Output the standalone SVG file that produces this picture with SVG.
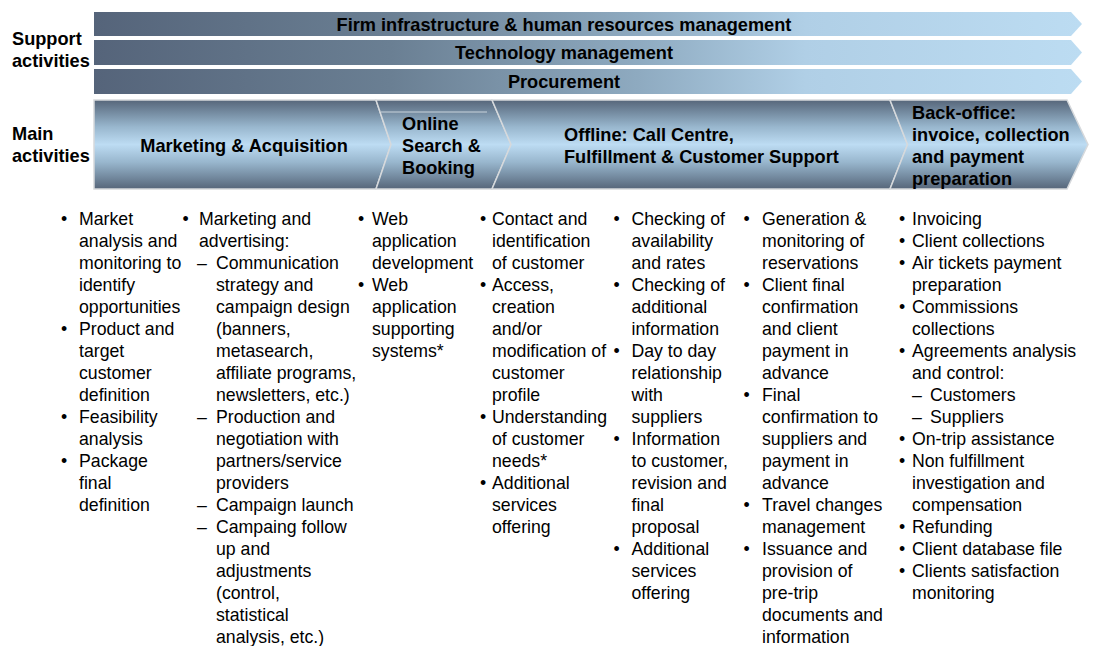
<svg xmlns="http://www.w3.org/2000/svg" width="1093" height="646" viewBox="0 0 1093 646">
<defs>
<linearGradient id="barGrad" gradientUnits="userSpaceOnUse" x1="94" y1="0" x2="1082" y2="0">
<stop offset="0" stop-color="#55647a"/>
<stop offset="0.3" stop-color="#6a7f93"/>
<stop offset="0.55" stop-color="#8eaac0"/>
<stop offset="0.72" stop-color="#b0cfe6"/>
<stop offset="1" stop-color="#bcdcf2"/>
</linearGradient>
<linearGradient id="chevGrad" gradientUnits="userSpaceOnUse" x1="0" y1="100" x2="0" y2="189">
<stop offset="0" stop-color="#56667a"/>
<stop offset="0.3" stop-color="#98b6cd"/>
<stop offset="0.5" stop-color="#bddcf3"/>
<stop offset="0.7" stop-color="#98b6cd"/>
<stop offset="1" stop-color="#56667a"/>
</linearGradient>
<style>
.bar{fill:url(#barGrad);}
.chev{fill:url(#chevGrad);stroke:#d6d9dc;stroke-width:1.5;}
.h{font-family:"Liberation Sans",Arial,sans-serif;font-weight:bold;font-size:18.2px;fill:#000;}
.b{font-family:"Liberation Sans",Arial,sans-serif;font-size:17.7px;fill:#000;}
.c{text-anchor:middle;}
</style>
</defs>
<rect width="1093" height="646" fill="#fff"/>

<g id="side-labels">
<text class="h" x="12" y="45">Support</text>
<text class="h" x="12" y="67">activities</text>
<text class="h" x="12" y="140">Main</text>
<text class="h" x="12" y="162">activities</text>
</g>

<g id="bar-firm">
<polygon class="bar" points="94,12 1071,12 1082,24 1071,36 94,36"/>
<text class="h c" x="564" y="31">Firm infrastructure &amp; human resources management</text>
</g>
<g id="bar-tech">
<polygon class="bar" points="94,40 1071,40 1082,52.5 1071,65 94,65"/>
<text class="h c" x="564" y="59">Technology management</text>
</g>
<g id="bar-proc">
<polygon class="bar" points="94,69 1071,69 1082,81.5 1071,94 94,94"/>
<text class="h c" x="564" y="88">Procurement</text>
</g>

<g id="chev-marketing">
<polygon class="chev" points="94,100 376,100 391,144.5 376,189 94,189"/>
<text class="h c" x="244" y="152">Marketing &amp; Acquisition</text>
</g>
<g id="chev-online">
<polygon class="chev" points="376,100 492,100 511,144.5 492,189 376,189 391,144.5"/>
<line x1="381" y1="112" x2="487" y2="112" stroke="#c9d3dc" stroke-width="1"/>
<text class="h" x="402" y="130">Online</text>
<text class="h" x="402" y="152">Search &amp;</text>
<text class="h" x="402" y="174">Booking</text>
</g>
<g id="chev-offline">
<polygon class="chev" points="492,100 890,100 907.5,144.5 890,189 492,189 511,144.5"/>
<text class="h" x="564" y="141">Offline: Call Centre,</text>
<text class="h" x="564" y="163">Fulfillment &amp; Customer Support</text>
</g>
<g id="chev-backoffice">
<polygon class="chev" points="890,100 1067,100 1088,144.5 1067,189 890,189 907.5,144.5"/>
<text class="h" x="912" y="119">Back-office:</text>
<text class="h" x="912" y="141">invoice, collection</text>
<text class="h" x="912" y="163">and payment</text>
<text class="h" x="912" y="185">preparation</text>
</g>

<g id="connectors"/>

<g id="col-1">
<text class="b c" x="64"><tspan y="225">•</tspan><tspan x="64" y="335">•</tspan><tspan x="64" y="423">•</tspan><tspan x="64" y="467">•</tspan></text>
<text class="b" x="79" y="225"><tspan x="79" y="225">Market</tspan><tspan x="79" y="247">analysis and</tspan><tspan x="79" y="269">monitoring to</tspan><tspan x="79" y="291">identify</tspan><tspan x="79" y="313">opportunities</tspan><tspan x="79" y="335">Product and</tspan><tspan x="79" y="357">target</tspan><tspan x="79" y="379">customer</tspan><tspan x="79" y="401">definition</tspan><tspan x="79" y="423">Feasibility</tspan><tspan x="79" y="445">analysis</tspan><tspan x="79" y="467">Package</tspan><tspan x="79" y="489">final</tspan><tspan x="79" y="511">definition</tspan></text>
</g>

<g id="col-2">
<text class="b c" x="185.7" y="225">•</text>
<text class="b"><tspan x="197" y="269">–</tspan><tspan x="197" y="423">–</tspan><tspan x="197" y="511">–</tspan><tspan x="197" y="533">–</tspan></text>
<text class="b"><tspan x="199" y="225">Marketing and</tspan><tspan x="199" y="247">advertising:</tspan><tspan x="216" y="269">Communication</tspan><tspan x="216" y="291">strategy and</tspan><tspan x="216" y="313">campaign design</tspan><tspan x="216" y="335">(banners,</tspan><tspan x="216" y="357">metasearch,</tspan><tspan x="216" y="379">affiliate programs,</tspan><tspan x="216" y="401">newsletters, etc.)</tspan><tspan x="216" y="423">Production and</tspan><tspan x="216" y="445">negotiation with</tspan><tspan x="216" y="467">partners/service</tspan><tspan x="216" y="489">providers</tspan><tspan x="216" y="511">Campaign launch</tspan><tspan x="216" y="533">Campaing follow</tspan><tspan x="216" y="555">up and</tspan><tspan x="216" y="577">adjustments</tspan><tspan x="216" y="599">(control,</tspan><tspan x="216" y="621">statistical</tspan><tspan x="216" y="643">analysis, etc.)</tspan></text>
</g>

<g id="col-3">
<text class="b c"><tspan x="361" y="225">•</tspan><tspan x="361" y="291">•</tspan></text>
<text class="b"><tspan x="372" y="225">Web</tspan><tspan x="372" y="247">application</tspan><tspan x="372" y="269">development</tspan><tspan x="372" y="291">Web</tspan><tspan x="372" y="313">application</tspan><tspan x="372" y="335">supporting</tspan><tspan x="372" y="357">systems*</tspan></text>
</g>

<g id="col-4">
<text class="b c"><tspan x="483" y="225">•</tspan><tspan x="483" y="291">•</tspan><tspan x="483" y="423">•</tspan><tspan x="483" y="489">•</tspan></text>
<text class="b"><tspan x="492" y="225">Contact and</tspan><tspan x="492" y="247">identification</tspan><tspan x="492" y="269">of customer</tspan><tspan x="492" y="291">Access,</tspan><tspan x="492" y="313">creation</tspan><tspan x="492" y="335">and/or</tspan><tspan x="492" y="357">modification of</tspan><tspan x="492" y="379">customer</tspan><tspan x="492" y="401">profile</tspan><tspan x="492" y="423">Understanding</tspan><tspan x="492" y="445">of customer</tspan><tspan x="492" y="467">needs*</tspan><tspan x="492" y="489">Additional</tspan><tspan x="492" y="511">services</tspan><tspan x="492" y="533">offering</tspan></text>
</g>

<g id="col-5">
<text class="b c"><tspan x="616.7" y="225">•</tspan><tspan x="616.7" y="291">•</tspan><tspan x="616.7" y="357">•</tspan><tspan x="616.7" y="445">•</tspan><tspan x="616.7" y="555">•</tspan></text>
<text class="b"><tspan x="631.5" y="225">Checking of</tspan><tspan x="631.5" y="247">availability</tspan><tspan x="631.5" y="269">and rates</tspan><tspan x="631.5" y="291">Checking of</tspan><tspan x="631.5" y="313">additional</tspan><tspan x="631.5" y="335">information</tspan><tspan x="631.5" y="357">Day to day</tspan><tspan x="631.5" y="379">relationship</tspan><tspan x="631.5" y="401">with</tspan><tspan x="631.5" y="423">suppliers</tspan><tspan x="631.5" y="445">Information</tspan><tspan x="631.5" y="467">to customer,</tspan><tspan x="631.5" y="489">revision and</tspan><tspan x="631.5" y="511">final</tspan><tspan x="631.5" y="533">proposal</tspan><tspan x="631.5" y="555">Additional</tspan><tspan x="631.5" y="577">services</tspan><tspan x="631.5" y="599">offering</tspan></text>
</g>

<g id="col-6">
<text class="b c"><tspan x="746.7" y="225">•</tspan><tspan x="746.7" y="291">•</tspan><tspan x="746.7" y="401">•</tspan><tspan x="746.7" y="511">•</tspan><tspan x="746.7" y="555">•</tspan></text>
<text class="b"><tspan x="762" y="225">Generation &amp;</tspan><tspan x="762" y="247">monitoring of</tspan><tspan x="762" y="269">reservations</tspan><tspan x="762" y="291">Client final</tspan><tspan x="762" y="313">confirmation</tspan><tspan x="762" y="335">and client</tspan><tspan x="762" y="357">payment in</tspan><tspan x="762" y="379">advance</tspan><tspan x="762" y="401">Final</tspan><tspan x="762" y="423">confirmation to</tspan><tspan x="762" y="445">suppliers and</tspan><tspan x="762" y="467">payment in</tspan><tspan x="762" y="489">advance</tspan><tspan x="762" y="511">Travel changes</tspan><tspan x="762" y="533">management</tspan><tspan x="762" y="555">Issuance and</tspan><tspan x="762" y="577">provision of</tspan><tspan x="762" y="599">pre-trip</tspan><tspan x="762" y="621">documents and</tspan><tspan x="762" y="643">information</tspan></text>
</g>

<g id="col-7">
<text class="b c"><tspan x="902" y="225">•</tspan><tspan x="902" y="247">•</tspan><tspan x="902" y="269">•</tspan><tspan x="902" y="313">•</tspan><tspan x="902" y="357">•</tspan><tspan x="902" y="445">•</tspan><tspan x="902" y="467">•</tspan><tspan x="902" y="533">•</tspan><tspan x="902" y="555">•</tspan><tspan x="902" y="577">•</tspan></text>
<text class="b"><tspan x="912" y="401">–</tspan><tspan x="912" y="423">–</tspan></text>
<text class="b"><tspan x="912" y="225">Invoicing</tspan><tspan x="912" y="247">Client collections</tspan><tspan x="912" y="269">Air tickets payment</tspan><tspan x="912" y="291">preparation</tspan><tspan x="912" y="313">Commissions</tspan><tspan x="912" y="335">collections</tspan><tspan x="912" y="357">Agreements analysis</tspan><tspan x="912" y="379">and control:</tspan><tspan x="930" y="401">Customers</tspan><tspan x="930" y="423">Suppliers</tspan><tspan x="912" y="445">On-trip assistance</tspan><tspan x="912" y="467">Non fulfillment</tspan><tspan x="912" y="489">investigation and</tspan><tspan x="912" y="511">compensation</tspan><tspan x="912" y="533">Refunding</tspan><tspan x="912" y="555">Client database file</tspan><tspan x="912" y="577">Clients satisfaction</tspan><tspan x="912" y="599">monitoring</tspan></text>
</g>
</svg>
